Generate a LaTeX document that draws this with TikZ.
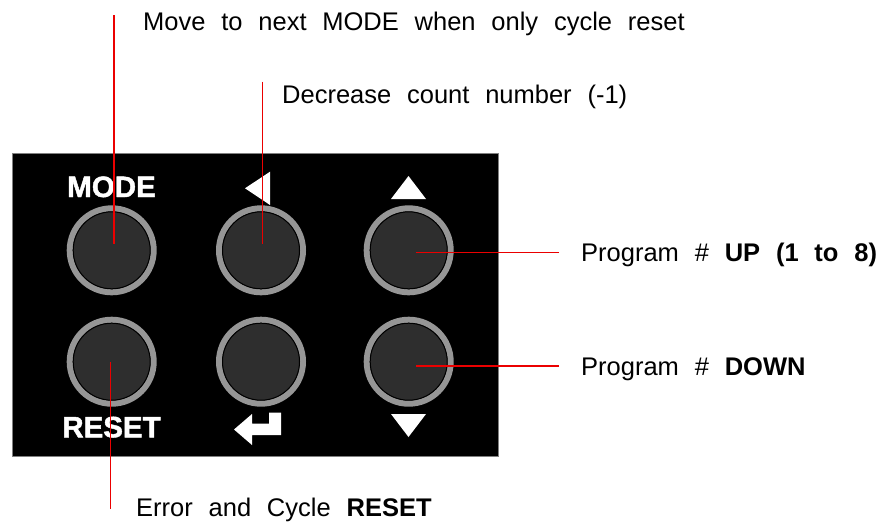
\documentclass[tikz,border=0pt]{standalone}
\usepackage{fontspec}
\setmainfont{Liberation Sans}
\newfontfamily\heavyfont[FakeBold=1.5]{Liberation Sans Bold}
\newcommand\lblfont{\fontsize{25.5}{30}\selectfont\spaceskip=0.62em\relax}
\newcommand\keyfont{\heavyfont\fontsize{29.5}{34}\selectfont}
\definecolor{ringgray}{RGB}{150,150,150}
\definecolor{capfill}{RGB}{46,46,46}
\definecolor{leader}{RGB}{235,0,0}
\tikzset{
  panel/.style={fill=black,draw=gray,line width=1},
  button/.style={circle,minimum size=84,inner sep=0,outer sep=0,
    fill=capfill,draw=ringgray,line width=6},
  keylabel/.style={text=white,font=\keyfont,inner sep=0,anchor=base},
  glyph/.style={fill=white,draw=none},
  leaderline/.style={draw=leader,line width=1.5},
  callout/.style={font=\lblfont,inner sep=0,anchor=base west,text=black}
}
\begin{document}
\begin{tikzpicture}[x=1pt,y=-1pt]
\useasboundingbox (0,0) rectangle (886,523);

% keypad housing
\draw[panel] (12,153) rectangle (498,456);

% six push buttons
\foreach \n/\x/\y in {b1/111.7/250.3, b2/261/250.3, b3/408.7/250.3,
                      b4/111.7/361.7, b5/261/361.7, b6/408.7/361.7}{
  \node[button] (\n) at (\x,\y) {};
  \draw[black,line width=1] (\n.center) circle (38.5);
}

% key legends
\node[keylabel] (lmode) at (111.5,197) {MODE};
\node[keylabel] (lreset) at (111.5,437.3) {RESET};
\fill[glyph] (245,188.3) -- (270,171.7) -- (270,205) -- cycle;
\fill[glyph] (408.5,176) -- (426,199) -- (391,199) -- cycle;
\fill[glyph] (408.5,437) -- (391,414) -- (426,414) -- cycle;
\fill[glyph] (234,429.5) -- (252,414) -- (252,423.5) -- (269,423.5)
  -- (269,412.5) -- (281,412.5) -- (281,435) -- (252,435) -- (252,445) -- cycle;

% callout texts
\node[callout] (tmode) at (143,30) {Move to next MODE when only cycle reset};
\node[callout] (tdec) at (282,103) {Decrease count number (-1)};
\node[callout] (tup) at (581,261.5) {Program \# \textbf{UP (1 to 8)}};
\node[callout] (tdown) at (581,375.5) {Program \# \textbf{DOWN}};
\node[callout] (treset) at (136,516.7) {Error and Cycle \textbf{RESET}};

% leader lines
\coordinate (p1) at (114,15);   \coordinate (q1) at (114,243.5);
\coordinate (p2) at (262.5,81.5); \coordinate (q2) at (262.5,244);
\coordinate (p3) at (559,252.5); \coordinate (q3) at (416,252.5);
\coordinate (p4) at (559,366); \coordinate (q4) at (416,366);
\coordinate (p5) at (110.5,508.5); \coordinate (q5) at (110.5,362.3);
\draw[leaderline] (p1) -- (q1);
\draw[leaderline] (p2) -- (q2);
\draw[leaderline] (p3) -- (q3);
\draw[leaderline] (p4) -- (q4);
\draw[leaderline] (p5) -- (q5);
\end{tikzpicture}
\end{document}
